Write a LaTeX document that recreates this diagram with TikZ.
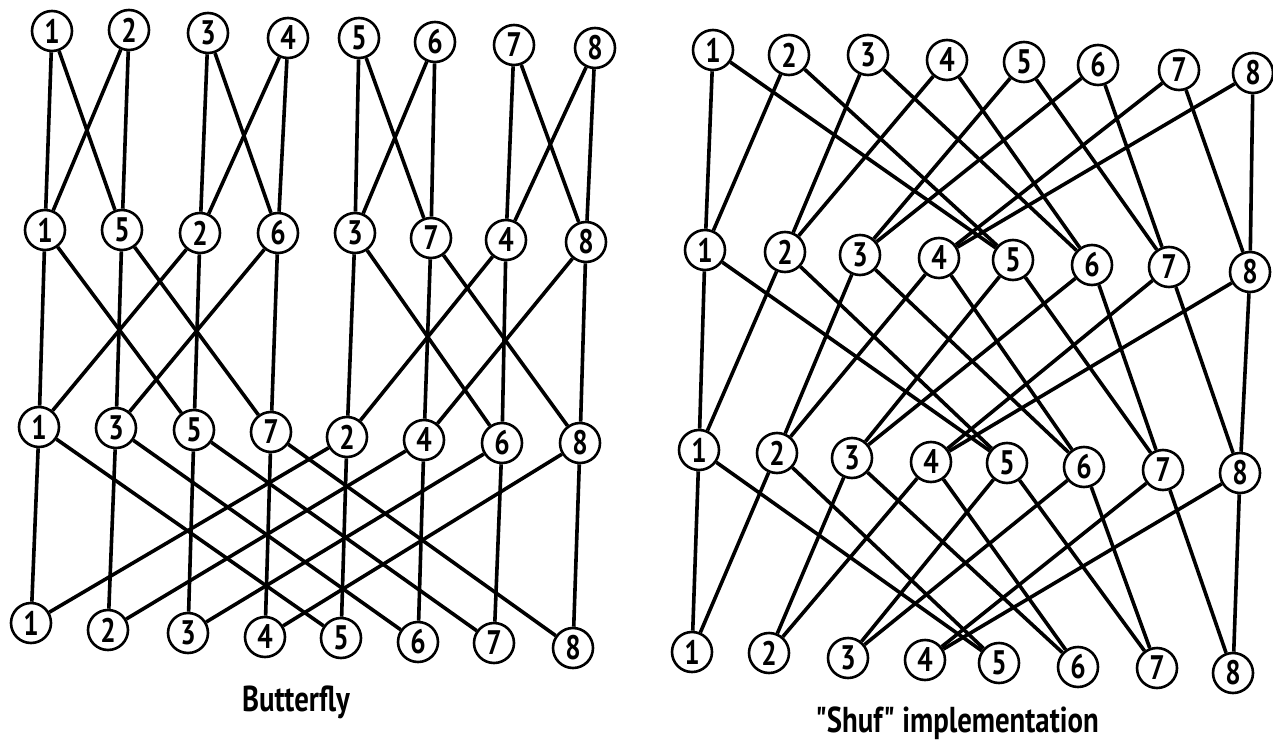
\documentclass[tikz,border=0pt]{standalone}
\usepackage{fontspec}
\usepackage{tikz}
\newfontfamily\letterfont[FakeStretch=0.8]{PT Sans}
\tikzset{
  vertex/.style={circle, draw=black, line width=2.6pt, fill=white,
                 minimum size=40pt, inner sep=0pt,
                 font=\letterfont\bfseries\fontsize{34}{34}\selectfont},
  wire/.style={line width=3.6pt, draw=black},
  caption/.style={font=\letterfont\bfseries\fontsize{36}{36}\selectfont}
}

\begin{document}
\begin{tikzpicture}[x=1pt, y=-1pt]
  \useasboundingbox (0,0) rectangle (1273,754);
  % butterfly, top row
  \node[vertex] (bfA1) at (52,31) {1};
  \node[vertex] (bfA2) at (129,30) {2};
  \node[vertex] (bfA3) at (208,33) {3};
  \node[vertex] (bfA4) at (288,38) {4};
  \node[vertex] (bfA5) at (359,38) {5};
  \node[vertex] (bfA6) at (435,42) {6};
  \node[vertex] (bfA7) at (514,45) {7};
  \node[vertex] (bfA8) at (595,48) {8};
  % butterfly, second row
  \node[vertex] (bfB1) at (45,230) {1};
  \node[vertex] (bfB2) at (122,230) {5};
  \node[vertex] (bfB3) at (200,233) {2};
  \node[vertex] (bfB4) at (278,233) {6};
  \node[vertex] (bfB5) at (355,233) {3};
  \node[vertex] (bfB6) at (431,238) {7};
  \node[vertex] (bfB7) at (506,240) {4};
  \node[vertex] (bfB8) at (586,242) {8};
  % butterfly, third row
  \node[vertex] (bfC1) at (39,427) {1};
  \node[vertex] (bfC2) at (116,428) {3};
  \node[vertex] (bfC3) at (194,430) {5};
  \node[vertex] (bfC4) at (271,432) {7};
  \node[vertex] (bfC5) at (347,437) {2};
  \node[vertex] (bfC6) at (424,440) {4};
  \node[vertex] (bfC7) at (502,443) {6};
  \node[vertex] (bfC8) at (580,443) {8};
  % butterfly, bottom row
  \node[vertex] (bfD1) at (31,623) {1};
  \node[vertex] (bfD2) at (108,630) {2};
  \node[vertex] (bfD3) at (188,633) {3};
  \node[vertex] (bfD4) at (265,637) {4};
  \node[vertex] (bfD5) at (341,638) {5};
  \node[vertex] (bfD6) at (418,642) {6};
  \node[vertex] (bfD7) at (494,643) {7};
  \node[vertex] (bfD8) at (573,648) {8};

  \draw[wire] (bfA1) -- (bfB1) (bfA1) -- (bfB2);
  \draw[wire] (bfA2) -- (bfB1) (bfA2) -- (bfB2);
  \draw[wire] (bfA3) -- (bfB3) (bfA3) -- (bfB4);
  \draw[wire] (bfA4) -- (bfB3) (bfA4) -- (bfB4);
  \draw[wire] (bfA5) -- (bfB5) (bfA5) -- (bfB6);
  \draw[wire] (bfA6) -- (bfB5) (bfA6) -- (bfB6);
  \draw[wire] (bfA7) -- (bfB7) (bfA7) -- (bfB8);
  \draw[wire] (bfA8) -- (bfB7) (bfA8) -- (bfB8);

  \draw[wire] (bfB1) -- (bfC1) (bfB1) -- (bfC3);
  \draw[wire] (bfB2) -- (bfC2) (bfB2) -- (bfC4);
  \draw[wire] (bfB3) -- (bfC3) (bfB3) -- (bfC1);
  \draw[wire] (bfB4) -- (bfC4) (bfB4) -- (bfC2);
  \draw[wire] (bfB5) -- (bfC5) (bfB5) -- (bfC7);
  \draw[wire] (bfB6) -- (bfC6) (bfB6) -- (bfC8);
  \draw[wire] (bfB7) -- (bfC7) (bfB7) -- (bfC5);
  \draw[wire] (bfB8) -- (bfC8) (bfB8) -- (bfC6);

  \draw[wire] (bfC1) -- (bfD1) (bfC1) -- (bfD5);
  \draw[wire] (bfC2) -- (bfD2) (bfC2) -- (bfD6);
  \draw[wire] (bfC3) -- (bfD3) (bfC3) -- (bfD7);
  \draw[wire] (bfC4) -- (bfD4) (bfC4) -- (bfD8);
  \draw[wire] (bfC5) -- (bfD5) (bfC5) -- (bfD1);
  \draw[wire] (bfC6) -- (bfD6) (bfC6) -- (bfD2);
  \draw[wire] (bfC7) -- (bfD7) (bfC7) -- (bfD3);
  \draw[wire] (bfC8) -- (bfD8) (bfC8) -- (bfD4);

  \node[caption] (bfname) at (296,702) {Butterfly};

  % shuffle, top row
  \node[vertex] (shA1) at (713,50) {1};
  \node[vertex] (shA2) at (789,55) {2};
  \node[vertex] (shA3) at (868,55) {3};
  \node[vertex] (shA4) at (947,60) {4};
  \node[vertex] (shA5) at (1024,62) {5};
  \node[vertex] (shA6) at (1098,65) {6};
  \node[vertex] (shA7) at (1179,70) {7};
  \node[vertex] (shA8) at (1253,73) {8};
  % shuffle, second row
  \node[vertex] (shB1) at (705,250) {1};
  \node[vertex] (shB2) at (785,252) {2};
  \node[vertex] (shB3) at (860,255) {3};
  \node[vertex] (shB4) at (939,258) {4};
  \node[vertex] (shB5) at (1013,260) {5};
  \node[vertex] (shB6) at (1092,265) {6};
  \node[vertex] (shB7) at (1169,267) {7};
  \node[vertex] (shB8) at (1250,272) {8};
  % shuffle, third row
  \node[vertex] (shC1) at (699,450) {1};
  \node[vertex] (shC2) at (777,453) {2};
  \node[vertex] (shC3) at (852,458) {3};
  \node[vertex] (shC4) at (931,462) {4};
  \node[vertex] (shC5) at (1007,463) {5};
  \node[vertex] (shC6) at (1084,467) {6};
  \node[vertex] (shC7) at (1163,470) {7};
  \node[vertex] (shC8) at (1240,473) {8};
  % shuffle, bottom row
  \node[vertex] (shD1) at (692,652) {1};
  \node[vertex] (shD2) at (769,653) {2};
  \node[vertex] (shD3) at (848,658) {3};
  \node[vertex] (shD4) at (925,660) {4};
  \node[vertex] (shD5) at (999,663) {5};
  \node[vertex] (shD6) at (1078,667) {6};
  \node[vertex] (shD7) at (1157,668) {7};
  \node[vertex] (shD8) at (1233,673) {8};

  \draw[wire] (shA1) -- (shB1) (shA1) -- (shB5);
  \draw[wire] (shA2) -- (shB1) (shA2) -- (shB5);
  \draw[wire] (shA3) -- (shB2) (shA3) -- (shB6);
  \draw[wire] (shA4) -- (shB2) (shA4) -- (shB6);
  \draw[wire] (shA5) -- (shB3) (shA5) -- (shB7);
  \draw[wire] (shA6) -- (shB3) (shA6) -- (shB7);
  \draw[wire] (shA7) -- (shB4) (shA7) -- (shB8);
  \draw[wire] (shA8) -- (shB4) (shA8) -- (shB8);

  \draw[wire] (shB1) -- (shC1) (shB1) -- (shC5);
  \draw[wire] (shB2) -- (shC1) (shB2) -- (shC5);
  \draw[wire] (shB3) -- (shC2) (shB3) -- (shC6);
  \draw[wire] (shB4) -- (shC2) (shB4) -- (shC6);
  \draw[wire] (shB5) -- (shC3) (shB5) -- (shC7);
  \draw[wire] (shB6) -- (shC3) (shB6) -- (shC7);
  \draw[wire] (shB7) -- (shC4) (shB7) -- (shC8);
  \draw[wire] (shB8) -- (shC4) (shB8) -- (shC8);

  \draw[wire] (shC1) -- (shD1) (shC1) -- (shD5);
  \draw[wire] (shC2) -- (shD1) (shC2) -- (shD5);
  \draw[wire] (shC3) -- (shD2) (shC3) -- (shD6);
  \draw[wire] (shC4) -- (shD2) (shC4) -- (shD6);
  \draw[wire] (shC5) -- (shD3) (shC5) -- (shD7);
  \draw[wire] (shC6) -- (shD3) (shC6) -- (shD7);
  \draw[wire] (shC7) -- (shD4) (shC7) -- (shD8);
  \draw[wire] (shC8) -- (shD4) (shC8) -- (shD8);

  \node[caption] (shname) at (957,723) {"Shuf" implementation};
\end{tikzpicture}
\end{document}
